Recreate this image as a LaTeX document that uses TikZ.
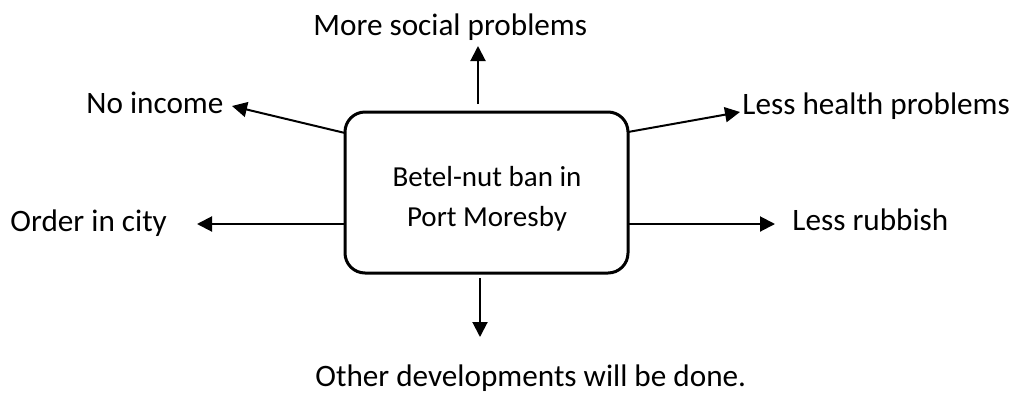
\documentclass[tikz,border=0pt]{standalone}
\usepackage{fontspec}
\setmainfont{Carlito}
\usetikzlibrary{arrows.meta}
\begin{document}
\begin{tikzpicture}[x=0.5pt,y=-0.5pt,
  lbl/.style={inner sep=0pt,anchor=base west,font=\fontsize{15.6pt}{18pt}\selectfont},
  mainbox/.style={draw,line width=1.5pt,rounded corners=10pt,minimum width=141.5pt,minimum height=80.5pt,inner sep=0pt,align=center,font=\fontsize{14.5pt}{20pt}\selectfont},
  conn/.style={line width=1pt,-{Triangle[length=7.5pt,width=7.5pt]}}]
\useasboundingbox (0,0) rectangle (1017,392);
\node[mainbox] (box) at (486.5,192.5) {};
\node[inner sep=0pt,anchor=base,font=\fontsize{14.5pt}{20pt}\selectfont] (t1) at (487,186) {Betel-nut ban in};
\node[inner sep=0pt,anchor=base,font=\fontsize{14.5pt}{20pt}\selectfont] (t2) at (487,226) {Port Moresby};
\node[lbl] (msp) at (313,35) {More social problems};
\node[lbl] (noi) at (86,113) {No income};
\node[lbl] (oic) at (10,231) {Order in city};
\node[lbl] (lhp) at (742,114) {Less health problems};
\node[lbl] (lrb) at (792,230) {Less rubbish};
\node[lbl] (odv) at (315,386) {Other developments will be done.};
\coordinate (sU) at (478,104); \coordinate (eU) at (478,46);
\coordinate (sD) at (480,278); \coordinate (eD) at (480,337);
\coordinate (sNW) at (345,133); \coordinate (eNW) at (232,106);
\coordinate (sW) at (345,224); \coordinate (eW) at (197,224);
\coordinate (sNE) at (628,132); \coordinate (eNE) at (740,112);
\coordinate (sE) at (628,224); \coordinate (eE) at (775,224);
\draw[conn] (sU) -- (eU);
\draw[conn] (sD) -- (eD);
\draw[conn] (sNW) -- (eNW);
\draw[conn] (sW) -- (eW);
\draw[conn] (sNE) -- (eNE);
\draw[conn] (sE) -- (eE);
\end{tikzpicture}
\end{document}
